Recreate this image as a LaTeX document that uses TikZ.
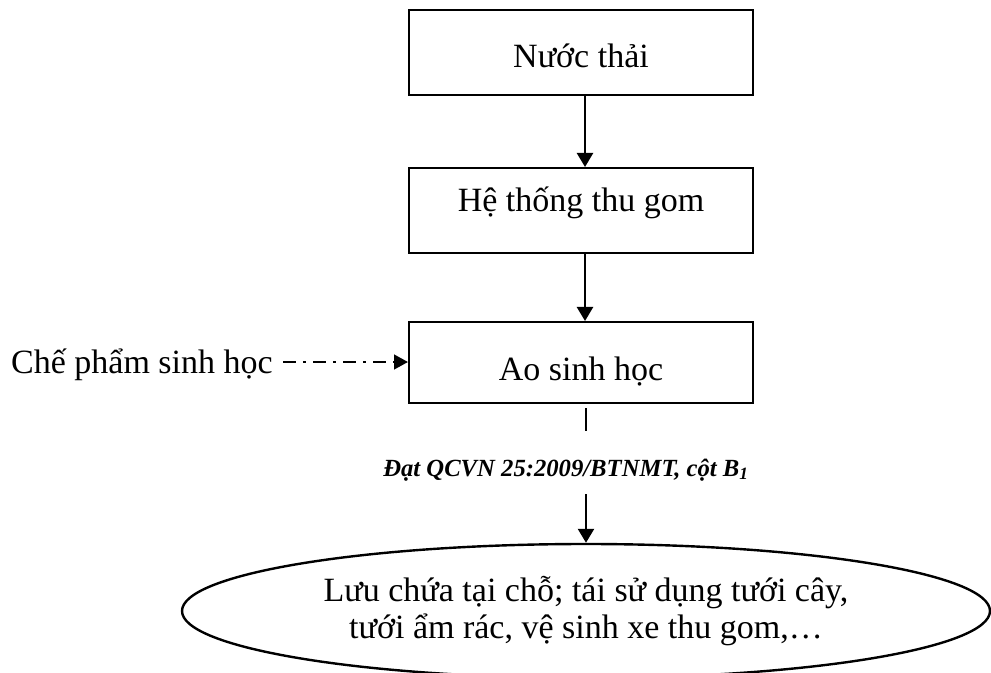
\documentclass[tikz,border=0pt]{standalone}
\usepackage{fontspec}
\setmainfont{Liberation Serif}
\usetikzlibrary{arrows.meta,shapes.geometric}
\begin{document}
\begin{tikzpicture}[x=0.75pt,y=-0.75pt,
  boxnode/.style={draw,line width=1.5pt,minimum width=258pt,inner sep=0pt,
    font=\fontsize{25.5pt}{27.75pt}\selectfont},
  flow/.style={line width=1.8pt,-{Triangle[width=12pt,length=10.5pt]}},
  plainline/.style={line width=1.8pt},
  dashdotarrow/.style={line width=1.8pt,dash pattern=on 9.75pt off 5.25pt on 2.25pt off 5.25pt,
    -{Triangle[width=11pt,length=10.5pt]}}]
\useasboundingbox (0,0) rectangle (991,673);
\node[boxnode,minimum height=63.75pt,text height=23.25pt,text depth=0pt] (b1) at (581,52.5) {Nước thải};
\node[boxnode,minimum height=63.75pt,text height=15pt,text depth=12.75pt] (b2) at (581,210.5) {Hệ thống thu gom};
\node[boxnode,minimum height=60.75pt,text height=26.25pt,text depth=0pt] (b3) at (581,362.5) {Ao sinh học};
\node[anchor=east,inner xsep=7.5pt,inner ysep=0pt,text height=16.5pt,text depth=0pt,
  font=\fontsize{25.5pt}{27.75pt}\selectfont] (che) at (283,362) {Chế phẩm sinh học};
\node[anchor=base,inner xsep=0pt,inner ysep=9.75pt,text height=15pt,text depth=3.75pt,
  font=\fontsize{18.5pt}{22pt}\selectfont\bfseries\itshape] (lbl) at (566,476) {Đạt QCVN 25:2009/BTNMT, cột B\textsubscript{1}};
\node[draw,ellipse,line width=1.8pt,minimum width=606pt,minimum height=100.5pt,inner sep=0pt,align=center,
  font=\fontsize{25.5pt}{27.75pt}\selectfont] (ell) at (586,611) {Lưu chứa tại chỗ; tái sử dụng tưới cây,\\tưới ẩm rác, vệ sinh xe thu gom,…};
\draw[flow] ([xshift=3pt]b1.south) -- ([xshift=3pt]b2.north);
\draw[flow] ([xshift=3pt]b2.south) -- ([xshift=3pt]b3.north);
\draw[dashdotarrow] (che.east) -- (che.east -| b3.west);
\draw[plainline,shorten <=3pt,shorten >=9pt] (ell.north |- b3.south) -- (ell.north |- lbl.north);
\draw[flow] (ell.north |- lbl.south) -- (ell.north);
\end{tikzpicture}
\end{document}
